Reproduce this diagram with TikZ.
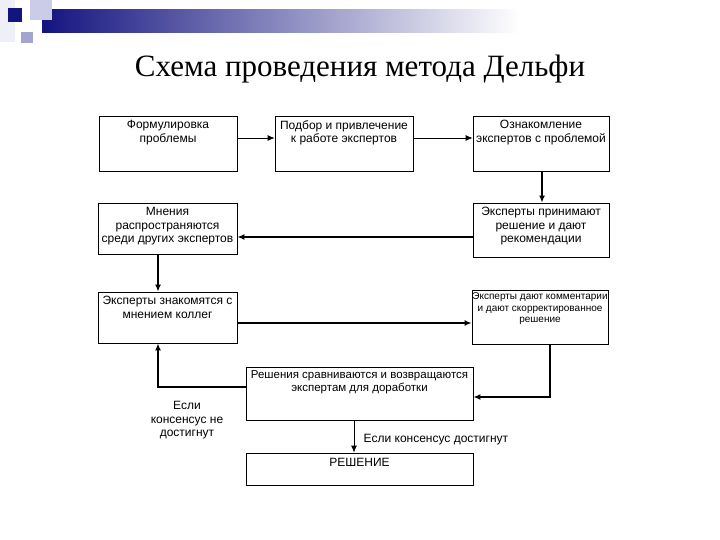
\documentclass[tikz,border=0pt]{standalone}
\usepackage{fontspec}
\setmainfont{Liberation Serif}
\setsansfont{Liberation Sans}
\usepackage{tikz}
\usetikzlibrary{arrows.meta, positioning, calc}
\definecolor{sinijTemnyj}{HTML}{141480}
\definecolor{lavandaSvet}{HTML}{CBCCE8}
\definecolor{lavandaSred}{HTML}{A3A4D2}
\definecolor{fonSvet}{HTML}{EEEFF7}

\begin{document}
\begin{tikzpicture}[x=1pt, y=-1pt, font=\sffamily\fontsize{12}{13.5}\selectfont, >=Latex,
        blok/.style={draw, line width=0.8pt, inner sep=0pt},
        txt/.style={anchor=north, align=center, inner sep=4.5pt},
        melk/.style={font=\sffamily\fontsize{10}{11.5}\selectfont, inner sep=3pt},
        tonk/.style={-{Latex[length=7pt,width=6pt]}, line width=0.8pt},
        tolst/.style={-{Latex[length=7pt,width=6pt]}, line width=2pt}]
        \useasboundingbox (0,0) rectangle (720,540);
        % оформление слайда
        \fill[fonSvet] (0,0) rectangle (15,42);
        \shade[left color=sinijTemnyj, right color=white] (42,10) rectangle (520,33);
        \fill[lavandaSvet] (30,0) rectangle (52,20);
        \fill[sinijTemnyj] (8,8) rectangle (22,22);
        \fill[lavandaSred] (21,32) rectangle (33,43);
        \node[font=\rmfamily\fontsize{31}{33}\selectfont, anchor=base] (titul) at (360,77) {Схема проведения метода Дельфи};
        % блоки
        \node[blok, minimum width=138pt, minimum height=55pt, label={[txt]north:{Формулировка\\проблемы}}] (fp) at (168,143.5) {};
        \node[blok, minimum width=138pt, minimum height=55pt, label={[txt]north:{Подбор и привлечение\\к работе экспертов}}] (pp) at (344,143.5) {};
        \node[blok, minimum width=136pt, minimum height=55pt, label={[txt]north:{Ознакомление\\экспертов с проблемой}}] (oz) at (541,143.5) {};
        \node[blok, minimum width=136pt, minimum height=54pt, label={[txt]north:{Эксперты принимают\\решение и дают\\рекомендации}}] (pr) at (541,230) {};
        \node[blok, minimum width=139pt, minimum height=51pt, label={[txt]north:{Мнения\\распространяются\\среди других экспертов}}] (mn) at (167.5,228.5) {};
        \node[blok, minimum width=139pt, minimum height=51pt, label={[txt]north:{Эксперты знакомятся с\\мнением коллег}}] (zk) at (167.5,317.5) {};
        \node[blok, minimum width=136pt, minimum height=54pt, label={[txt, melk]north:{Эксперты дают комментарии\\и дают скорректированное\\решение}}] (kr) at (540,317) {};
        \node[blok, minimum width=227pt, minimum height=53pt, label={[txt, font=\sffamily\fontsize{11.5}{13.5}\selectfont, inner sep=3.5pt]north:{Решения сравниваются и возвращаются\\экспертам для доработки}}] (sr) at (359.5,393.5) {};
        \node[blok, minimum width=227pt, minimum height=32pt, label={[txt, inner sep=5.5pt]north:{РЕШЕНИЕ}}] (rs) at (359.5,469) {};
        % связи
        \draw[tonk] ([yshift=5.5pt]fp.east) -- ([yshift=5.5pt]fp.east -| pp.west);
        \draw[tonk] ([yshift=5.5pt]pp.east) -- ([yshift=5.5pt]pp.east -| oz.west);
        \draw[tolst] ([xshift=1pt]oz.south) -- ([xshift=1pt]pr.north);
        \draw[tolst] ([yshift=-7pt]pr.west) -- ([yshift=-7pt]pr.west -| mn.east);
        \draw[tolst] ([xshift=-9.5pt]mn.south) -- ([xshift=-9.5pt]zk.north);
        \draw[tolst] ([yshift=-5.5pt]zk.east) -- ([yshift=-5.5pt]zk.east -| kr.west);
        \draw[tolst] ([xshift=10pt]kr.south) |- ([yshift=-3.5pt]sr.east);
        \draw[tolst] ([yshift=6.5pt]sr.west) -| ([xshift=-9.5pt]zk.south);
        \draw[tonk] ([xshift=-5.5pt]sr.south) -- node[right, xshift=6pt, yshift=-3pt] (da) {Если консенсус достигнут} ([xshift=-5.5pt]rs.north);
        \node[align=center, text depth=0pt] (net) at (187,419) {Если\\консенсус не\\достигнут};
    \end{tikzpicture}
\end{document}
